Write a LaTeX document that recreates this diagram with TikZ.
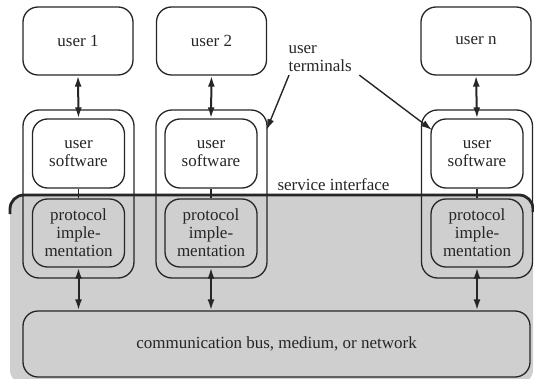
\documentclass[tikz,border=0pt]{standalone}
\usepackage{fontspec}
\setmainfont{Liberation Serif}
\usetikzlibrary{arrows.meta,calc}
\definecolor{ink}{gray}{0.15}
\definecolor{netgrey}{gray}{0.81}
\begin{document}
\begin{tikzpicture}[x=1pt,y=-1pt,
  txt/.style={text=ink, font=\fontsize{17}{18}\selectfont},
  box/.style={txt, draw=ink, line width=1.3pt, rounded corners=15pt,
    align=center, inner sep=0pt},
  userbox/.style={box, fill=white, minimum width=110pt, minimum height=68pt},
  termbox/.style={draw=ink, line width=1.3pt, rounded corners=16pt,
    minimum width=111pt, minimum height=168pt, inner sep=0pt},
  softbox/.style={box, fill=white, minimum width=92pt, minimum height=69pt},
  protobox/.style={box, minimum width=92pt, minimum height=68pt},
  link/.style={draw=ink, line width=2pt, {Latex[length=11pt,width=7pt]}-{Latex[length=11pt,width=7pt]}},
  plain/.style={draw=ink, line width=1.3pt},
  pointer/.style={draw=ink, line width=1.4pt, -{Latex[length=11pt,width=7pt]}},
  edge/.style={draw=ink, line width=2.8pt, rounded corners=14pt}
]
\useasboundingbox (0,0) rectangle (534,379);

% grey network side below the service interface
\fill[netgrey, rounded corners=14pt] (10,195) rectangle (533,384);

% user terminals
\node[termbox] (t1) at (78.5,194) {};
\node[termbox] (t2) at (211.5,194) {};
\node[termbox] (tn) at (477,194) {};

% service interface boundary
\draw[edge] (10,214) -- (10,195) -- (533,195) -- (533,212);
\node[txt, anchor=base] (si) at (333.5,190) {service interface};

% users
\node[userbox] (u1) at (78,41) {user 1};
\node[userbox] (u2) at (211.5,41) {user 2};
\node[userbox] (un) at (476,41) {user n};

% user software
\node[softbox] (s1) at (78.5,153.5) {user\\software};
\node[softbox] (s2) at (211,153.5) {user\\software};
\node[softbox] (sn) at (477,153.5) {user\\software};

% protocol implementations
\node[protobox] (p1) at (78.5,233) {protocol\\imple-\\mentation};
\node[protobox] (p2) at (211,233) {protocol\\imple-\\mentation};
\node[protobox] (pn) at (477,233) {protocol\\imple-\\mentation};

% communication bus
\node[box, minimum width=507pt, minimum height=66pt] (bus) at (276.5,344)
  {communication bus, medium, or network};

% connections
\foreach \k in {1,2,n}{
  \draw[link] (u\k.south) -- (s\k.north);
  \draw[plain] (s\k.south) -- (p\k.north);
  \draw[link] (p\k.south) -- (p\k.south |- bus.north);
}

% user terminals label
\node[txt, anchor=west, align=left] (lbl) at (285,58.5) {user\\terminals};
\coordinate (tip2) at (266.5,130);
\coordinate (tipn) at (432,130);
\draw[pointer] ($(lbl.south west)+(4,0)$) -- (tip2);
\draw[pointer] ($(lbl.south east)+(4,0)$) -- (tipn);
\end{tikzpicture}
\end{document}
